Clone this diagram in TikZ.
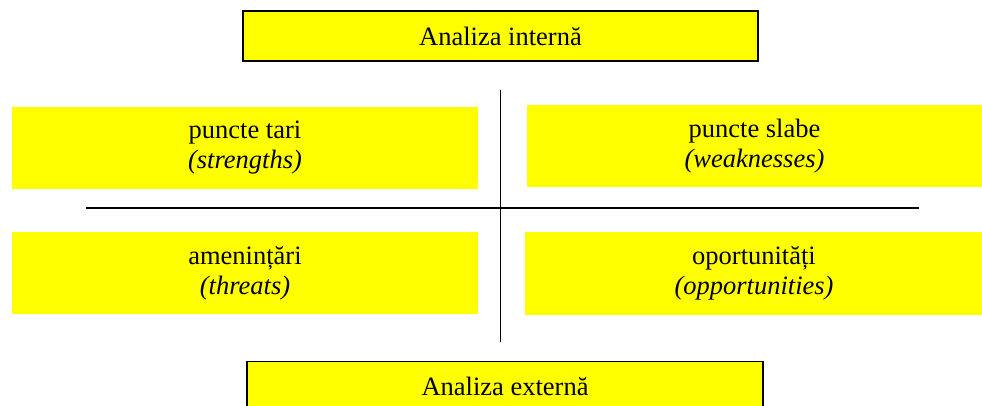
\documentclass[tikz,border=0pt]{standalone}
\usepackage{fontspec}
\setmainfont{Liberation Serif}
\usepackage{xcolor}
\usetikzlibrary{positioning}
\definecolor{SwotYellow}{HTML}{FFFF00}
\definecolor{SwotBlack}{HTML}{000000}
\tikzset{
    headbox/.style={
        draw=SwotBlack,
        line width=1.6pt,
        fill=SwotYellow,
        minimum width=#1,
        minimum height=50pt,
        inner sep=0pt,
        font=\fontsize{26.5}{30}\selectfont
    },
    headbox/.default=515pt,
    quadbox/.style={
        fill=SwotYellow,
        minimum width=#1,
        minimum height=82pt,
        inner sep=0pt,
        align=center,
        font=\fontsize{26.5}{30}\selectfont
    },
    quadbox/.default=466pt,
    axis/.style={
        line width=1.8pt,
        SwotBlack
    }
}
\begin{document}
\begin{tikzpicture}[x=1pt, y=-1pt]
        \useasboundingbox (0,0) rectangle (982,405);

        % Header boxes
        \node[headbox] (intern) at (500.5,36) {Analiza internă};
        \node[headbox=516pt] (extern) at (505,386.5) {Analiza externă};

        % Quadrants
        \node[quadbox] (tari) at (245,148) {puncte tari\\\textit{(strengths)}};
        \node[quadbox=456pt] (slabe) at (754.5,146) {puncte slabe\\\textit{(weaknesses)}};
        \node[quadbox] (amenintari) at (245,273) {amenințări\\\textit{(threats)}};
        \node[quadbox=458pt, minimum height=83pt] (oportunitati) at (754,273.5) {oportunități\\\textit{(opportunities)}};

        % Axes
        \coordinate (vtop) at (500.5,90);
        \coordinate (vbot) at (500.5,342);
        \coordinate (hleft) at (86,208);
        \coordinate (hright) at (919,208);
        \draw[axis] (vtop) -- (vbot);
        \draw[axis] (hleft) -- (hright);
    \end{tikzpicture}
\end{document}
